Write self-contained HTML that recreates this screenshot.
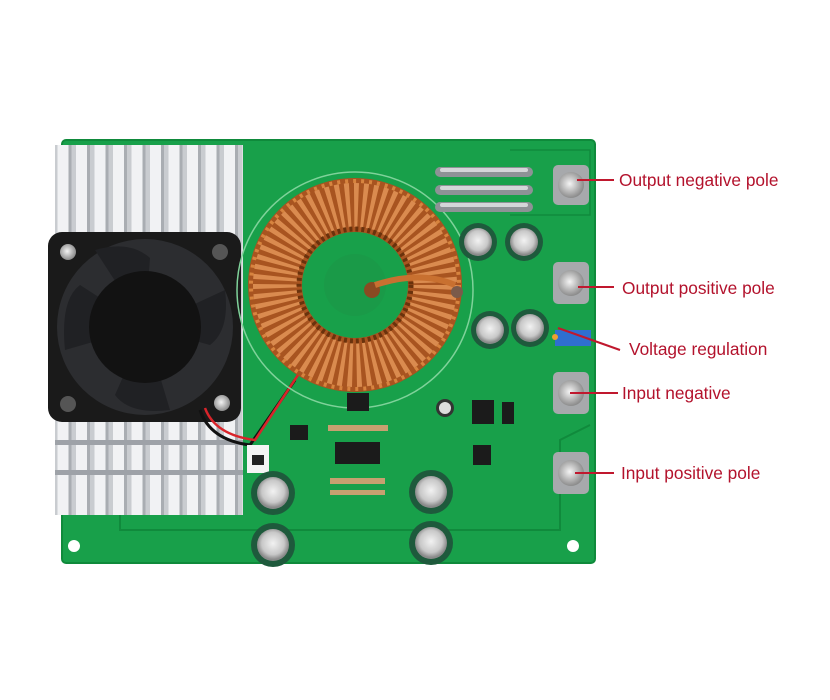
<!DOCTYPE html>
<html><head><meta charset="utf-8"><style>
html,body{margin:0;padding:0;background:#fff;width:830px;height:700px;overflow:hidden}
svg{display:block}
text{font-family:"Liberation Sans",sans-serif;font-size:17.3px;fill:#b3122c}
</style></head><body>
<svg width="830" height="700" viewBox="0 0 830 700">
<defs>
<radialGradient id="cap" cx="50%" cy="45%" r="50%"><stop offset="0" stop-color="#f2f2f2"/><stop offset="0.7" stop-color="#c8c8c8"/><stop offset="1" stop-color="#8a8a8a"/></radialGradient>
<radialGradient id="scr" cx="45%" cy="45%" r="55%"><stop offset="0" stop-color="#f4f4f4"/><stop offset="1" stop-color="#8b8b8b"/></radialGradient>
<pattern id="fins" width="18.5" height="10" patternUnits="userSpaceOnUse"><rect width="18.5" height="10" fill="#c9ccd0"/><rect x="2" width="11" height="10" fill="#f1f2f4"/><rect x="13" width="3" height="10" fill="#a9adb2"/></pattern>
</defs>
<rect x="62" y="140" width="533" height="423" rx="4" fill="#18a04a"/>
<rect x="62" y="140" width="533" height="423" rx="4" fill="none" stroke="#0f8a3b" stroke-width="2"/>
<path d="M120 500 V530 H560 V440 L590 425" fill="none" stroke="#108a3c" stroke-width="2"/>
<path d="M510 150 H590 V215 H510" fill="none" stroke="#108a3c" stroke-width="1.5"/>
<circle cx="74" cy="546" r="6" fill="#fff"/><circle cx="573" cy="546" r="6" fill="#fff"/>
<rect x="55" y="145" width="188" height="370" fill="url(#fins)"/>
<rect x="55" y="440" width="188" height="5" fill="#9ea2a8"/>
<rect x="55" y="470" width="188" height="5" fill="#9ea2a8"/>
<rect x="48" y="232" width="193" height="190" rx="14" fill="#1a1a1a"/>
<circle cx="145" cy="327" r="88" fill="#2c2d30"/>
<g fill="#202124">
<path d="M145 327 L95 250 Q130 240 150 258 Z"/><path d="M145 327 L225 290 Q230 330 210 345 Z"/>
<path d="M145 327 L170 410 Q130 415 115 395 Z"/><path d="M145 327 L65 350 Q60 300 80 285 Z"/>
</g>
<circle cx="145" cy="327" r="56" fill="#121212"/>
<circle cx="68" cy="252" r="8" fill="url(#scr)"/><circle cx="220" cy="252" r="8" fill="#555"/>
<circle cx="68" cy="404" r="8" fill="#555"/><circle cx="222" cy="403" r="8" fill="url(#scr)"/>
<path d="M200 410 Q210 440 250 445 L295 380" fill="none" stroke="#111" stroke-width="3"/>
<path d="M205 408 Q215 435 255 440 L298 375" fill="none" stroke="#d9242a" stroke-width="2.5"/>
<rect x="247" y="445" width="22" height="28" fill="#f4f4f4"/><rect x="252" y="455" width="12" height="10" fill="#222"/>
<circle cx="355" cy="290" r="118" fill="none" stroke="#7fd29a" stroke-width="1.5"/>
<circle cx="355" cy="285" r="80" fill="none" stroke="#a85420" stroke-width="54"/>
<circle cx="355" cy="285" r="80" fill="none" stroke="#e39558" stroke-width="44" stroke-dasharray="4 4" opacity="0.85"/>
<circle cx="355" cy="285" r="104" fill="none" stroke="#d7843f" stroke-width="4" stroke-dasharray="3 5"/>
<circle cx="355" cy="285" r="56" fill="none" stroke="#6a320c" stroke-width="5" stroke-dasharray="3 3"/>
<circle cx="355" cy="285" r="31" fill="#1a9a48"/>
<circle cx="372" cy="290" r="8" fill="#8a4a22"/>
<path d="M375 285 Q420 270 455 285" fill="none" stroke="#c87030" stroke-width="6"/>
<circle cx="457" cy="292" r="6" fill="#7a5a4a"/>
<g stroke="#8e9296" stroke-width="10" stroke-linecap="round"><line x1="440" y1="172" x2="528" y2="172"/><line x1="440" y1="190" x2="528" y2="190"/><line x1="440" y1="207" x2="528" y2="207"/></g>
<g stroke="#d4d6d8" stroke-width="4" stroke-linecap="round"><line x1="442" y1="170" x2="526" y2="170"/><line x1="442" y1="188" x2="526" y2="188"/><line x1="442" y1="205" x2="526" y2="205"/></g>
<g>
<circle cx="478" cy="242" r="19" fill="#1e5a3c"/><circle cx="478" cy="242" r="14" fill="url(#cap)"/>
<circle cx="524" cy="242" r="19" fill="#1e5a3c"/><circle cx="524" cy="242" r="14" fill="url(#cap)"/>
<circle cx="490" cy="330" r="19" fill="#1e5a3c"/><circle cx="490" cy="330" r="14" fill="url(#cap)"/>
<circle cx="530" cy="328" r="19" fill="#1e5a3c"/><circle cx="530" cy="328" r="14" fill="url(#cap)"/>
<circle cx="273" cy="493" r="22" fill="#1e5a3c"/><circle cx="273" cy="493" r="16" fill="url(#cap)"/>
<circle cx="273" cy="545" r="22" fill="#1e5a3c"/><circle cx="273" cy="545" r="16" fill="url(#cap)"/>
<circle cx="431" cy="492" r="22" fill="#1e5a3c"/><circle cx="431" cy="492" r="16" fill="url(#cap)"/>
<circle cx="431" cy="543" r="22" fill="#1e5a3c"/><circle cx="431" cy="543" r="16" fill="url(#cap)"/>
<circle cx="445" cy="408" r="9" fill="#333"/><circle cx="445" cy="408" r="6" fill="#ddd"/>
</g>
<g fill="#1b1b1b">
<rect x="347" y="393" width="22" height="18"/><rect x="335" y="442" width="45" height="22"/>
<rect x="472" y="400" width="22" height="24"/><rect x="473" y="445" width="18" height="20"/>
<rect x="502" y="402" width="12" height="22"/><rect x="290" y="425" width="18" height="15"/>
</g>
<g fill="#c8a070"><rect x="328" y="425" width="60" height="6"/><rect x="330" y="478" width="55" height="6"/><rect x="330" y="490" width="55" height="5"/></g>
<rect x="555" y="330" width="36" height="16" fill="#2f6fd0"/>
<circle cx="555" cy="337" r="3" fill="#f0a030"/>
<g>
<rect x="553" y="165" width="36" height="40" rx="5" fill="#a7a9ac"/><circle cx="571" cy="185" r="13" fill="url(#scr)"/>
<rect x="553" y="262" width="36" height="42" rx="5" fill="#a7a9ac"/><circle cx="571" cy="283" r="13" fill="url(#scr)"/>
<rect x="553" y="372" width="36" height="42" rx="5" fill="#a7a9ac"/><circle cx="571" cy="393" r="13" fill="url(#scr)"/>
<rect x="553" y="452" width="36" height="42" rx="5" fill="#a7a9ac"/><circle cx="571" cy="473" r="13" fill="url(#scr)"/>
</g>
<g stroke="#c0182e" stroke-width="2">
<line x1="577" y1="180" x2="614" y2="180"/><line x1="578" y1="287" x2="614" y2="287"/>
<line x1="558" y1="328" x2="620" y2="350"/><line x1="570" y1="393" x2="618" y2="393"/>
<line x1="575" y1="473" x2="614" y2="473"/>
</g>
<text x="619" y="186">Output negative pole</text>
<text x="622" y="294">Output positive pole</text>
<text x="629" y="355">Voltage regulation</text>
<text x="622" y="399">Input negative</text>
<text x="621" y="479">Input positive pole</text>
</svg>
</body></html>
